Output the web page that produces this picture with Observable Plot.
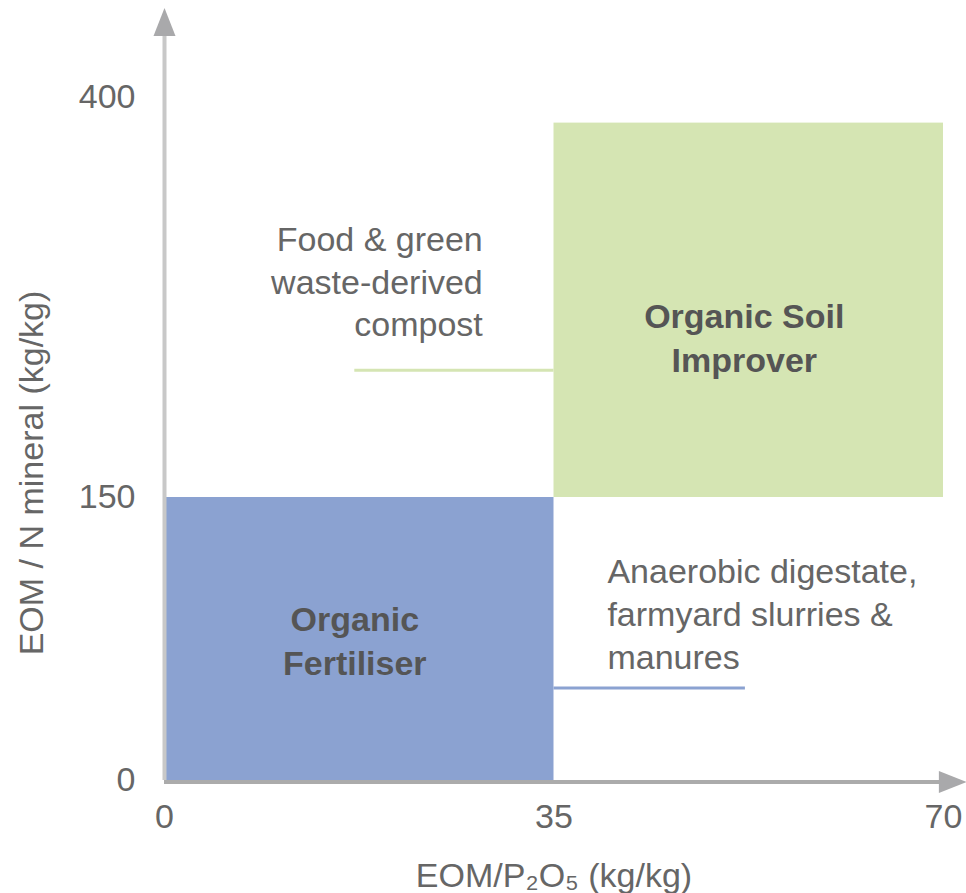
<!DOCTYPE html>
<html>
<head>
<meta charset="utf-8">
<script src="https://cdn.jsdelivr.net/npm/d3@7"></script>
<script src="https://cdn.jsdelivr.net/npm/@observablehq/plot@0.6"></script>
<style>
  html, body { margin: 0; padding: 0; background: #fff; }
  #chart svg { display: block; }
</style>
</head>
<body>
<div id="chart"></div>
<script>
// ---- data ----
const zoneNames   = ["Organic\nFertiliser", "Organic Soil\nImprover"];
const zoneX1      = [0, 35];
const zoneX2      = [35, 70];
const zoneY1      = [0, 150];
const zoneY2      = [150, 384];
const zoneColors  = ["#8ba2d1", "#d5e5b3"];
const zoneLabelX  = [17.1, 52.1];
const zoneLabelY  = [75, 251];

const sourceNames = ["Food & green\nwaste-derived\ncompost", "Anaerobic digestate,\nfarmyard slurries &\nmanures"];
const sourceX     = [28.6, 39.8];
const sourceY     = [286, 89];
const leaderX1    = [17.1, 35];
const leaderX2    = [35, 52.2];
const leaderY     = [229.5, 49];

const xTicks = [0, 35, 70];
const yTicks = [0, 150, 400];
const yBreak = 150;      // axis is drawn with a break in scale at 150
const xAxisEnd = 72.1;   // arrow tip beyond 70
const yAxisEnd = 456;    // arrow tip beyond 400
const xLabel = "EOM/P\u2082O\u2085 (kg/kg)";
const yLabel = "EOM / N mineral (kg/kg)";

const zones = zoneNames.map((name, i) => ({name, x1: zoneX1[i], x2: zoneX2[i], y1: zoneY1[i], y2: zoneY2[i], color: zoneColors[i], lx: zoneLabelX[i], ly: zoneLabelY[i]}));
const sources = sourceNames.map((name, i) => ({name, x: sourceX[i], y: sourceY[i], x1: leaderX1[i], x2: leaderX2[i], ly: leaderY[i], color: zoneColors[1 - i]}));

// piecewise-linear y: 0–150 occupies 283 px, 150–400 occupies 400 px
const lowPx = 283, highPx = 400;
const yPiece = v => v <= yBreak ? v * lowPx / yBreak : lowPx + (v - yBreak) * highPx / (400 - yBreak);

const font = "'Liberation Sans', Arial, Helvetica, sans-serif";
const arrowHead = {
  draw(context) {
    context.moveTo(0, 0);
    context.lineTo(-11, 28);
    context.lineTo(11, 28);
    context.closePath();
  }
};

const chart = Plot.plot({
  width: 966,
  height: 893,
  marginLeft: 164,
  marginRight: 23,
  marginTop: 97,
  marginBottom: 113,
  style: {fontFamily: font, background: "#fff", overflow: "visible"},
  x: {domain: [0, 70], axis: null},
  y: {transform: yPiece, domain: [0, yPiece(400)], range: [780, 97], axis: null},
  marks: [
    Plot.rect(zones, {x1: "x1", x2: "x2", y1: "y1", y2: "y2", fill: "color"}),
    Plot.ruleY(sources, {y: "ly", x1: "x1", x2: "x2", stroke: "color", strokeWidth: 3}),
    // axis lines with arrows
    Plot.ruleX([0], {y1: 0, y2: yAxisEnd - 12, stroke: "#c8c8c8", strokeWidth: 4}),
    Plot.ruleY([0], {x1: 0, x2: xAxisEnd - 1.6, stroke: "#ababab", strokeWidth: 4, dy: 1.5}),
    Plot.dot([0], {x: 0, y: yAxisEnd, symbol: arrowHead, fill: "#a9a9ab", stroke: "none", r: 10}),
    Plot.dot([0], {x: xAxisEnd, y: 0, symbol: arrowHead, rotate: 90, fill: "#a9a9ab", stroke: "none", r: 10, dy: 1.5}),
    // tick labels (through the scales, so the y break applies)
    Plot.text(xTicks, {x: d => d, y: 0, text: d => String(d), lineAnchor: "top", dy: 23, fontSize: 34, fill: "#666"}),
    Plot.text(yTicks, {x: 0, y: d => d, text: d => String(d), textAnchor: "end", dx: -29, fontSize: 34, fill: "#666"}),
    // axis titles
    Plot.text([xLabel], {frameAnchor: "bottom", textAnchor: "middle", dy: 96, fontSize: 34, fill: "#666", lineAnchor: "middle"}),
    Plot.text([yLabel], {frameAnchor: "left", textAnchor: "middle", dx: -132, dy: 34, rotate: -90, fontSize: 34, fill: "#666", lineAnchor: "middle"}),
    // zone labels
    Plot.text(zones, {x: "lx", y: "ly", text: "name", fontSize: 34, fontWeight: "bold", fill: "#555", lineHeight: 1.3, lineAnchor: "middle"}),
    // source annotations
    Plot.text(sources.slice(0, 1), {x: "x", y: "y", text: "name", textAnchor: "end", fontSize: 34, fill: "#666", lineHeight: 1.26, lineAnchor: "middle"}),
    Plot.text(sources.slice(1), {x: "x", y: "y", text: "name", textAnchor: "start", fontSize: 34, fill: "#666", lineHeight: 1.26, lineAnchor: "middle"})
  ]
});
document.getElementById("chart").append(chart);
</script>
</body>
</html>
